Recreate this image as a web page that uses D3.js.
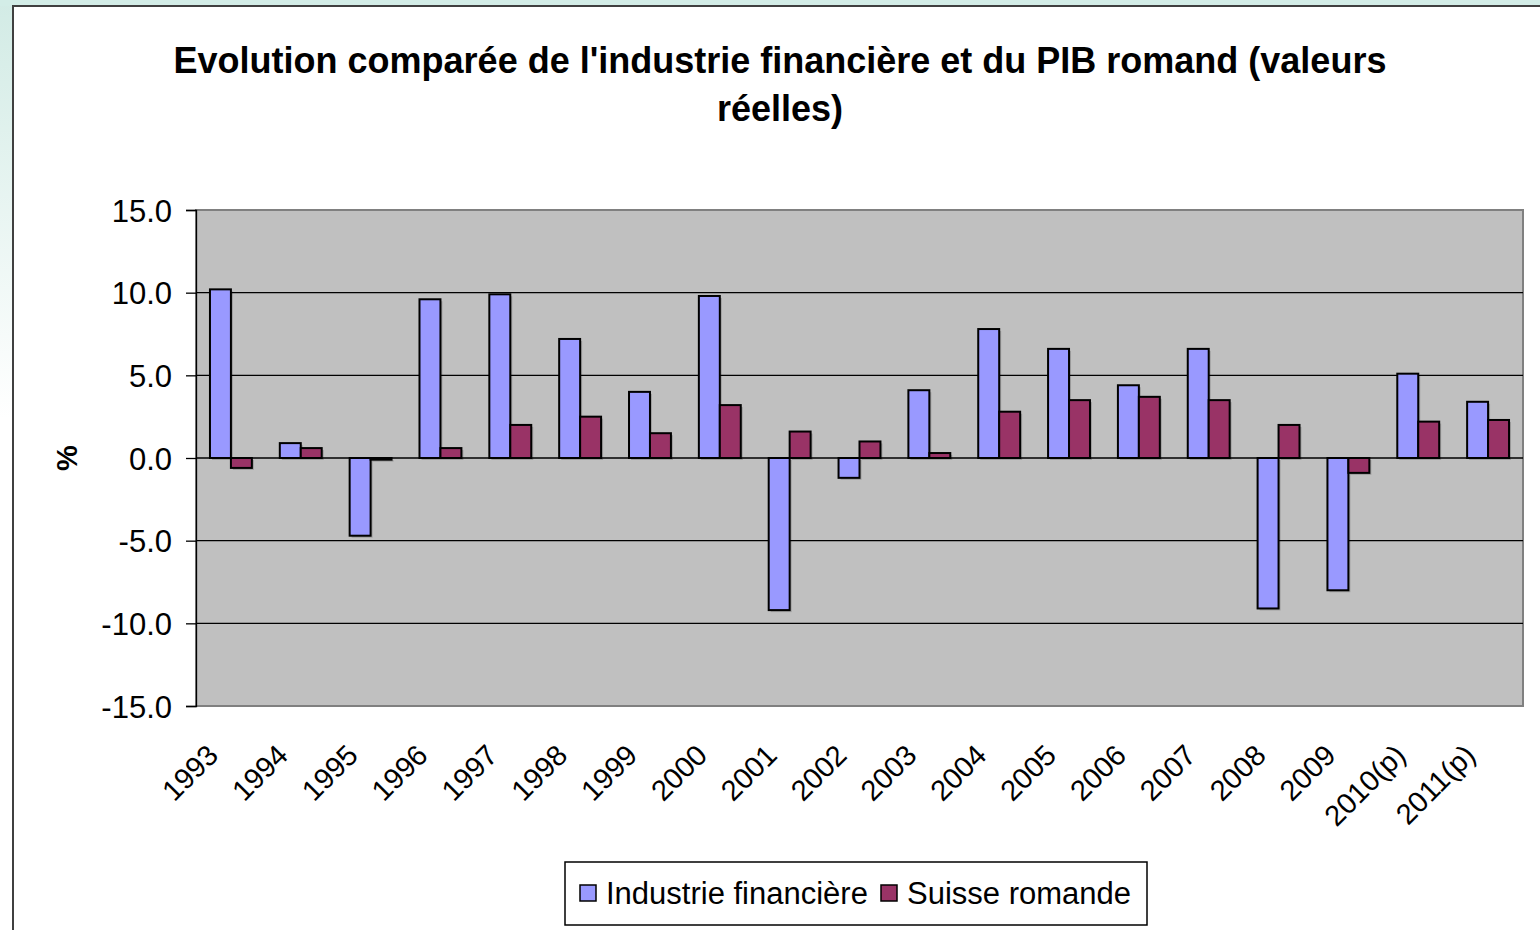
<!DOCTYPE html>
<html><head><meta charset="utf-8">
<script src="https://cdn.jsdelivr.net/npm/d3@7"></script>
<style>
html,body{margin:0;padding:0;background:#fff;}
svg{display:block;font-family:"Liberation Sans",Arial,sans-serif;}
</style></head>
<body>
<svg id="c" width="1540" height="930"></svg>
<script>
const categories = ["1993","1994","1995","1996","1997","1998","1999","2000","2001","2002","2003","2004","2005","2006","2007","2008","2009","2010(p)","2011(p)"];
const industrie = [10.2,0.9,-4.7,9.6,9.9,7.2,4.0,9.8,-9.2,-1.2,4.1,7.8,6.6,4.4,6.6,-9.1,-8.0,5.1,3.4];
const suisse = [-0.6,0.6,-0.1,0.6,2.0,2.5,1.5,3.2,1.6,1.0,0.3,2.8,3.5,3.7,3.5,2.0,-0.9,2.2,2.3];
const seriesNames = ["Industrie financière","Suisse romande"];
const yTicks = [15,10,5,0,-5,-10,-15];
const colors = ["#9999FF","#993366"];

const svg = d3.select("#c");
const defs = svg.append("defs");
const g1 = defs.append("linearGradient").attr("id","bgL").attr("x1",0).attr("y1",0).attr("x2",0).attr("y2",1);
g1.append("stop").attr("offset","0%").attr("stop-color","#d2ebe5");
g1.append("stop").attr("offset","45%").attr("stop-color","#ffffff");
svg.append("rect").attr("x",0).attr("y",0).attr("width",1540).attr("height",930).attr("fill","url(#bgL)");
svg.append("rect").attr("x",0).attr("y",0).attr("width",1540).attr("height",6).attr("fill","#d3ede7");
svg.append("rect").attr("x",13).attr("y",6).attr("width",1560).attr("height",960).attr("fill","#fff").attr("stroke","#404040").attr("stroke-width",2);

const L=196, R=1523, T=210, B=706;
const x = d3.scaleBand().domain(categories).range([L,R]).paddingInner(0).paddingOuter(0);
const y = d3.scaleLinear().domain([-15,15]).range([B,T]);
const bw = x.bandwidth()*0.3;

svg.append("rect").attr("x",L).attr("y",T).attr("width",R-L).attr("height",B-T).attr("fill","#C0C0C0").attr("stroke","#808080").attr("stroke-width",2);

svg.append("g").selectAll("line").data(yTicks.filter(v=>v!==15 && v!==-15)).join("line")
  .attr("x1",L).attr("x2",R).attr("y1",d=>y(d)).attr("y2",d=>y(d)).attr("stroke","#000").attr("stroke-width",1.3);

const fmt = d3.format(".1f");
const yAxis = d3.axisLeft(y).tickValues(yTicks).tickSize(10).tickPadding(14).tickFormat(d=>fmt(d).replace("−","-"));
const ya = svg.append("g").attr("transform",`translate(${L},0)`).call(yAxis);
ya.select(".domain").attr("stroke","#000").attr("stroke-width",1.3);
ya.selectAll(".tick line").attr("stroke","#000").attr("stroke-width",1.3);
ya.selectAll(".tick text").attr("font-size",31).attr("fill","#000").attr("font-family","Liberation Sans, Arial, sans-serif").attr("dy","0.36em");

const data = categories.map((c,i)=>({c, v:[industrie[i], suisse[i]]}));
const groups = svg.append("g").selectAll("g").data(data).join("g");
[0,1].forEach(s=>{
  groups.append("rect")
    .attr("x",d=>x(d.c)+x.bandwidth()/2 - bw + s*bw + 2)
    .attr("y",d=>Math.min(y(d.v[s]),y(0))+2)
    .attr("width",bw).attr("height",d=>Math.max(Math.abs(y(d.v[s])-y(0)),1))
    .attr("fill","rgba(0,0,0,0.18)");
  groups.append("rect")
    .attr("x",d=>x(d.c)+x.bandwidth()/2 - bw + s*bw)
    .attr("y",d=>Math.min(y(d.v[s]),y(0)))
    .attr("width",bw).attr("height",d=>Math.max(Math.abs(y(d.v[s])-y(0)),1))
    .attr("fill",colors[s]).attr("stroke","#000").attr("stroke-width",2);
});

svg.append("g").selectAll("text").data(categories).join("text")
  .attr("transform",d=>`translate(${x(d)+x.bandwidth()/2-11},${757}) rotate(-45)`)
  .attr("text-anchor","end")
  .attr("font-size",29).attr("fill","#000").text(d=>d);

svg.append("text").attr("x",780).attr("y",73).attr("text-anchor","middle").attr("font-weight","bold").attr("font-size",36).text("Evolution comparée de l'industrie financière et du PIB romand (valeurs");
svg.append("text").attr("x",780).attr("y",121).attr("text-anchor","middle").attr("font-weight","bold").attr("font-size",36).text("réelles)");
svg.append("text").attr("transform",`translate(77,${(T+B)/2}) rotate(-90)`).attr("text-anchor","middle").attr("font-weight","bold").attr("font-size",29).text("%");

const lg = svg.append("g");
lg.append("rect").attr("x",565).attr("y",862).attr("width",582).attr("height",63).attr("fill","#fff").attr("stroke","#000").attr("stroke-width",1.5);
const items=[{n:seriesNames[0],c:colors[0],x:580},{n:seriesNames[1],c:colors[1],x:881}];
items.forEach(it=>{
  lg.append("rect").attr("x",it.x).attr("y",885).attr("width",16).attr("height",16).attr("fill",it.c).attr("stroke","#000").attr("stroke-width",1.5);
  lg.append("text").attr("x",it.x+26).attr("y",904).attr("font-size",31).text(it.n);
});
</script>
</body></html>
